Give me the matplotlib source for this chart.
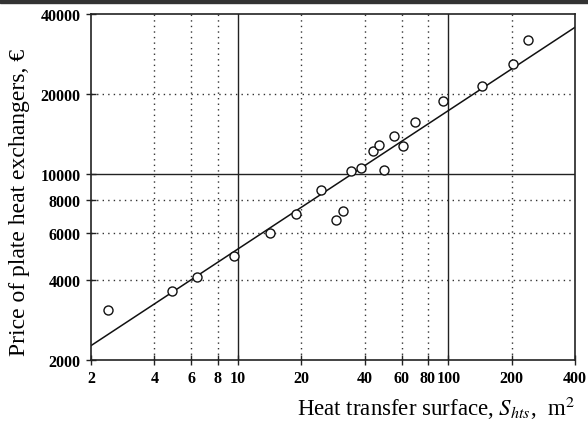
import matplotlib
matplotlib.use("Agg")
import matplotlib.pyplot as plt
from matplotlib.patches import Rectangle

# Data
surface = [2.42, 4.84, 6.40, 9.60, 14.2, 18.8, 24.8, 29.2, 31.7, 34.3, 38.3,
           43.7, 46.8, 49.6, 55.1, 61.0, 69.4, 94.0, 144, 202, 240]
price = [3080, 3630, 4090, 4930, 6020, 7080, 8740, 6720, 7270, 10300, 10520,
         12250, 12900, 10390, 13940, 12790, 15660, 18790, 21500, 25940, 32000]

fit_x = [2, 400]
fit_y = [2265, 35650]

x_ticks = [2, 4, 6, 8, 10, 20, 40, 60, 80, 100, 200, 400]
y_ticks = [2000, 4000, 6000, 8000, 10000, 20000, 40000]
x_dotted = [4, 6, 8, 20, 40, 60, 80, 200]
x_solid = [10, 100]
y_dotted = [4000, 6000, 8000, 20000]
y_solid = [10000]

plt.rcParams['font.family'] = ['Liberation Serif', 'DejaVu Serif']
plt.rcParams['mathtext.fontset'] = 'stix'

fig = plt.figure(figsize=(5.88, 4.31), dpi=100)
ax = fig.add_axes([91/588, 1 - 361/431, 484/588, 346/431])
ax.set_xscale('log')
ax.set_yscale('log')
ax.set_xlim(2, 400)
ax.set_ylim(2000, 40000)

for v in x_dotted:
    ax.axvline(v, color='#333333', lw=1.0, ls=(0, (1, 3)), zorder=1)
for v in y_dotted:
    ax.axhline(v, color='#333333', lw=1.0, ls=(0, (1, 3)), zorder=1)
for v in x_solid:
    ax.axvline(v, color='#222222', lw=1.0, zorder=1)
for v in y_solid:
    ax.axhline(v, color='#222222', lw=1.0, zorder=1)

ax.plot(fit_x, fit_y, color='#111111', lw=1.1, zorder=2)
ax.plot(surface, price, ls='none', marker='o', ms=6.5, mfc='white',
        mec='#111111', mew=1.0, zorder=3)

ax.set_xticks(x_ticks)
ax.set_xticklabels([str(t) for t in x_ticks])
ax.set_yticks(y_ticks)
ax.set_yticklabels([str(t) for t in y_ticks])
ax.minorticks_off()
ax.tick_params(direction='inout', length=7, width=1.0, color='#222222',
               labelsize=11.5, pad=4)
for lab in ax.get_xticklabels() + ax.get_yticklabels():
    lab.set_fontweight('bold')
for s in ax.spines.values():
    s.set_color('#222222')
    s.set_linewidth(1.2)

fig.text(20/588, 1 - 202/431, 'Price of plate heat exchangers, €',
         rotation=90, ha='center', va='center', fontsize=17)
fig.text(575/588, 1 - 408/431, r'Heat transfer surface, $S_{hts}$,  m$^2$',
         ha='right', va='center', fontsize=16.5)

fig.patches.append(Rectangle((0, 1 - 4/431), 1, 4/431, transform=fig.transFigure,
                             color='#333333', zorder=0))

fig.savefig('out.png', dpi=100)
